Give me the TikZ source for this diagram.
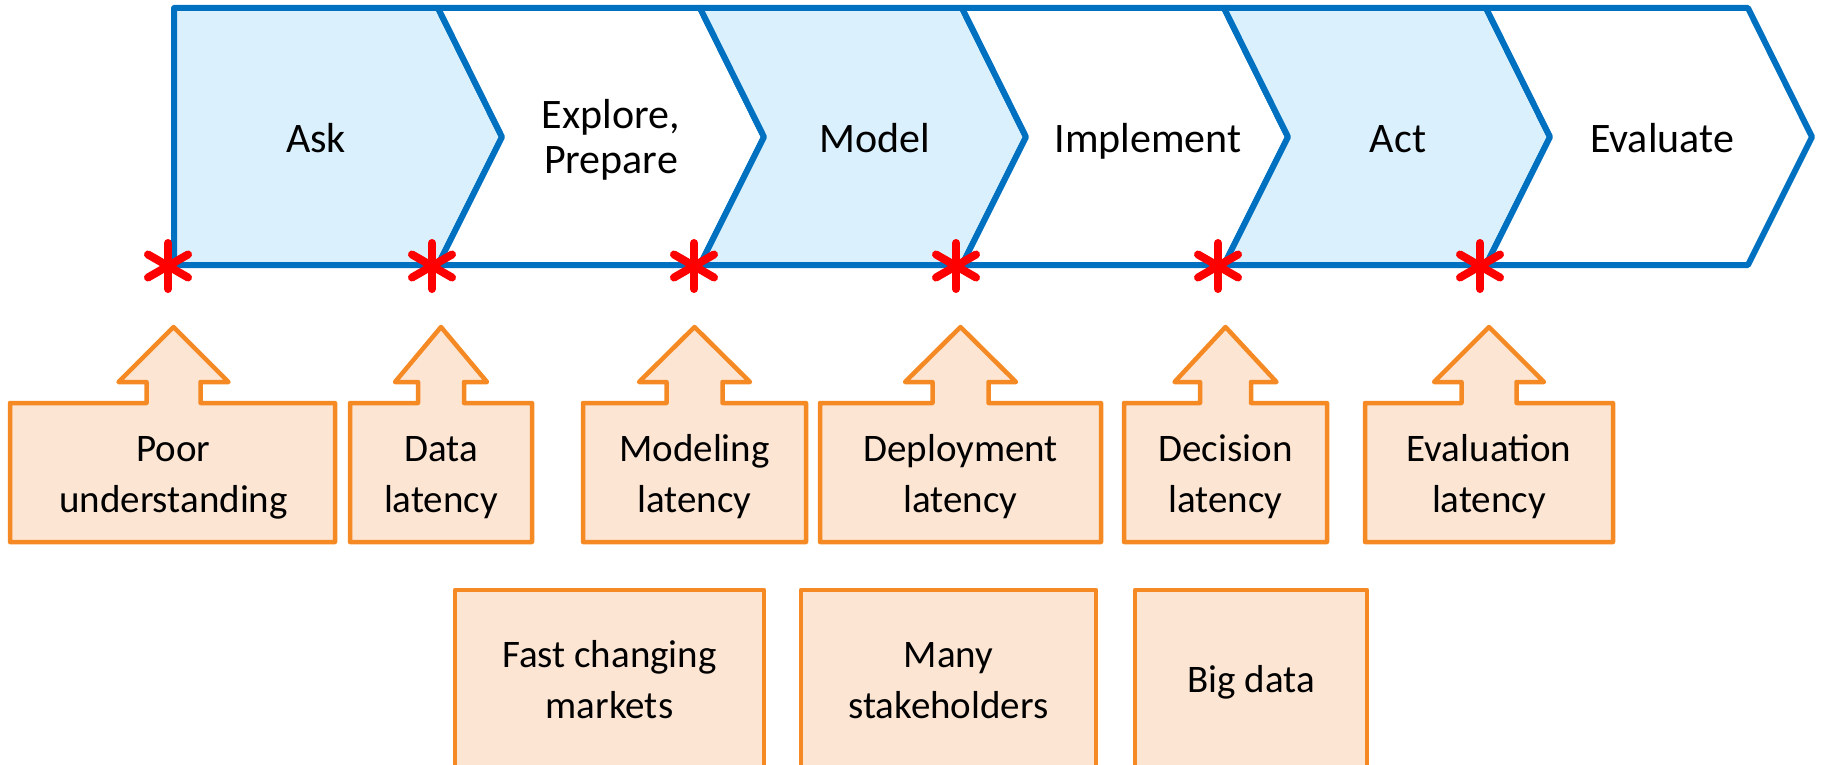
\documentclass[tikz,border=0pt]{standalone}
\usepackage{fontspec}
\setmainfont{Carlito}
\definecolor{cblue}{HTML}{0070C0}
\definecolor{cfill}{HTML}{DAF0FC}
\definecolor{corange}{HTML}{F58A24}
\definecolor{ofill}{HTML}{FCE5D3}
\begin{document}
\begin{tikzpicture}[x=0.5pt,y=-0.5pt,
  chev/.style={draw=cblue, line width=3pt, line join=round},
  bluechev/.style={chev, fill=cfill},
  whitechev/.style={chev, fill=white},
  callout/.style={draw=corange, fill=ofill, line width=2.25pt, line join=round},
  starmark/.style={draw=red, line width=4pt, line cap=round},
  ctext/.style={font=\fontsize{21}{22.5}\selectfont, align=center, anchor=base, inner sep=0pt},
  btext/.style={font=\fontsize{19.5}{25.5}\selectfont, align=center, anchor=base, inner sep=0pt}]
\useasboundingbox (0,0) rectangle (1821,765);
\clip (0,0) rectangle (1821,765);

% chevrons
\filldraw[bluechev] (174,8) -- (438,8) -- (502,137) -- (438,265) -- (174,265) -- cycle;
\filldraw[whitechev] (438,8) -- (700,8) -- (764,137) -- (700,265) -- (438,265) -- (502,137) -- cycle;
\filldraw[bluechev] (700,8) -- (962,8) -- (1026,137) -- (962,265) -- (700,265) -- (764,137) -- cycle;
\filldraw[whitechev] (962,8) -- (1224,8) -- (1288,137) -- (1224,265) -- (962,265) -- (1026,137) -- cycle;
\filldraw[bluechev] (1224,8) -- (1486,8) -- (1550,137) -- (1486,265) -- (1224,265) -- (1288,137) -- cycle;
\filldraw[whitechev] (1486,8) -- (1748,8) -- (1812,137) -- (1748,265) -- (1486,265) -- (1550,137) -- cycle;

\node[ctext] (ask) at (316,153) {Ask};
\node[ctext] (explore) at (611,174) {Explore,\\Prepare};
\node[ctext] (model) at (875,153) {Model};
\node[ctext] (implement) at (1148,153) {Implement};
\node[ctext] (act) at (1398,153) {Act};
\node[ctext] (evaluate) at (1662,153) {Evaluate};

% asterisks
\foreach \x in {168,432,694,956,1218,1480}{
  \draw[starmark] (\x,243) -- (\x,289);
  \draw[starmark] (\x-20,254.5) -- (\x+20,277.5);
  \draw[starmark] (\x-20,277.5) -- (\x+20,254.5);
}

% callouts (box with up arrow)
\foreach \L/\R/\c/\w/\n in {10/335/173.5/55/27, 350/532/441/46/23, 583/806/694.5/55.5/28, 820/1101/960.5/55.5/28, 1124/1327/1225.5/51/25.5, 1365/1613/1489/55/27.5}{
  \filldraw[callout] (\L,542) -- (\L,403) -- (\c-\n,403) -- (\c-\n,382) -- (\c-\w,382) -- (\c,327)
    -- (\c+\w,382) -- (\c+\n,382) -- (\c+\n,403) -- (\R,403) -- (\R,542) -- cycle;
}
\node[btext] (poor) at (173.5,512) {Poor\\understanding};
\node[btext] (datalat) at (441,512) {Data\\latency};
\node[btext] (modlat) at (694.5,512) {Modeling\\latency};
\node[btext] (deplat) at (960.5,512) {Deployment\\latency};
\node[btext] (declat) at (1225.5,512) {Decision\\latency};
\node[btext] (evallat) at (1489,512) {Evaluation\\latency};

% bottom boxes
\filldraw[callout] (455,590) rectangle (764,780);
\filldraw[callout] (801,590) rectangle (1096,780);
\filldraw[callout] (1135,590) rectangle (1367,780);
\node[btext] (fast) at (609.5,718) {Fast changing\\markets};
\node[btext] (many) at (948.5,718) {Many\\stakeholders};
\node[btext] (big) at (1251,692) {Big data};
\end{tikzpicture}
\end{document}
